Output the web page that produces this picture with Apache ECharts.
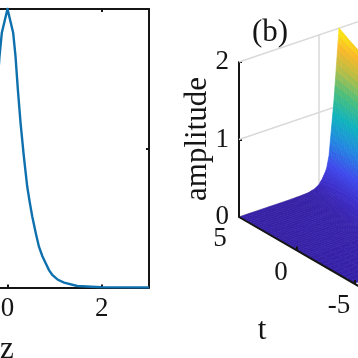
<!DOCTYPE html>
<html>
<head>
<meta charset="utf-8">
<style>html,body{margin:0;padding:0;background:#fff}#c{width:358px;height:358px}</style>
<script src="https://cdn.jsdelivr.net/npm/echarts@6/dist/echarts.min.js"></script>
</head>
<body>
<div id="c"></div>
<script>
// Panel (a): amplitude profile against z
const profileZ = [-3,-1.98,-1.48,-1.2,-1.07,-0.95,-0.88,-0.81,-0.74,-0.667,-0.6,-0.525,-0.47,-0.418,-0.347,-0.277,-0.22,-0.17,-0.12,0,0.12,0.17,0.22,0.277,0.347,0.418,0.47,0.525,0.6,0.667,0.74,0.81,0.88,0.95,1.07,1.2,1.48,1.98,3];
const profileAmp = [0,0.002,0.011,0.035,0.055,0.09,0.125,0.174,0.225,0.293,0.39,0.51,0.615,0.725,0.94,1.18,1.42,1.66,1.83,2,1.83,1.66,1.42,1.18,0.94,0.725,0.615,0.51,0.39,0.293,0.225,0.174,0.125,0.09,0.055,0.035,0.011,0.002,0];
const zTickValues = [-2,0,2];

// Panel (b): surface amplitude (rows: t, columns: z)
const surfaceT = [5,4,3,2,1,0,-1,-3,-5];
const surfaceZ = [-8,-4,-3,-2.5,-2,-1.6,-1.3,-1,-0.8,-0.6,-0.4,-0.2,0,0.3];
const surfaceAmp = [
 [0,0,0.005,0.01,0.03,0.07,0.14,0.24,0.4,0.75,1.1,1.55,2,1.4],
 [0,0,0.01,0.02,0.04,0.09,0.16,0.27,0.42,0.74,1.08,1.5,1.91,1.36],
 [0,0.005,0.015,0.03,0.06,0.11,0.19,0.3,0.45,0.74,1.05,1.45,1.83,1.32],
 [0,0.01,0.02,0.04,0.08,0.14,0.22,0.33,0.48,0.74,1.02,1.4,1.75,1.28],
 [0,0.01,0.03,0.06,0.11,0.17,0.26,0.37,0.5,0.72,0.98,1.33,1.66,1.22],
 [0,0.015,0.04,0.08,0.14,0.21,0.3,0.4,0.52,0.7,0.94,1.25,1.56,1.15],
 [0.005,0.02,0.05,0.1,0.16,0.24,0.33,0.43,0.53,0.68,0.88,1.16,1.44,1.1],
 [0.005,0.03,0.07,0.12,0.18,0.26,0.35,0.44,0.53,0.65,0.8,1,1.2,0.95],
 [0.01,0.03,0.07,0.12,0.18,0.25,0.33,0.41,0.49,0.57,0.68,0.8,0.95,0.8]
];
const ampTicks = [0,1,2];
const tTickLabels = [5,0,-5];
const zGridLines = [-1.6];

const FONT = '"Liberation Serif","Times New Roman",serif';
const INK = '#151515';
const GRIDC = '#d9d9d9';

// Oblique projection of (t, z, amp) onto panel (b)'s axes
const PX_T = 11.6, PX_Z = 12.5, DY_T = 6.7, DY_Z = 4.225, PX_AMP = 77.5;
function project(t, z, a) {
  const dt = 5 - t, dz = z + 8;
  return [dt * PX_T + dz * PX_Z, a + (dz * DY_Z - dt * DY_T) / PX_AMP];
}

const ramp = [
 [0,[54,32,165]],[0.1,[58,42,198]],[0.3,[62,72,236]],[0.6,[34,135,225]],
 [0.9,[14,178,190]],[1.2,[70,190,125]],[1.5,[185,190,70]],[1.75,[250,185,45]],[2,[250,240,15]]
];
function colour(a) {
  for (let i = 1; i < ramp.length; i++) {
    if (a <= ramp[i][0]) {
      const f = Math.max(0, (a - ramp[i-1][0]) / (ramp[i][0] - ramp[i-1][0]));
      const p = ramp[i-1][1], q = ramp[i][1];
      return 'rgb(' + [0,1,2].map(k => Math.round(p[k] + (q[k]-p[k]) * f)).join(',') + ')';
    }
  }
  return 'rgb(250,240,15)';
}

const quads = [];
for (let r = 0; r < surfaceT.length - 1; r++) {
  for (let c = surfaceZ.length - 2; c >= 0; c--) quads.push([r, c]);
}

function renderQuad(params, api) {
  const r = api.value(0), c = api.value(1);
  const t0 = surfaceT[r], t1 = surfaceT[r+1], z0 = surfaceZ[c], z1 = surfaceZ[c+1];
  const A = surfaceAmp;
  const N = 5, children = [];
  const at = (u, v) => {
    const a = (1-u)*(1-v)*A[r][c] + (1-u)*v*A[r][c+1] + u*(1-v)*A[r+1][c] + u*v*A[r+1][c+1];
    return { a, p: api.coord(project(t0 + (t1-t0)*u, z0 + (z1-z0)*v, a)) };
  };
  for (let i = 0; i < N; i++) for (let j = N - 1; j >= 0; j--) {
    const p00 = at(i/N, j/N), p01 = at(i/N, (j+1)/N), p11 = at((i+1)/N, (j+1)/N), p10 = at((i+1)/N, j/N);
    const col = colour((p00.a + p01.a + p11.a + p10.a) / 4);
    children.push({
      type: 'polygon',
      shape: { points: [p00.p, p01.p, p11.p, p10.p] },
      style: { fill: col, stroke: col, lineWidth: 0.6 }
    });
  }
  return { type: 'group', children };
}

function renderTTick(params, api) {
  const t = api.value(0);
  const p = api.coord(project(t, -8, 0));
  return { type: 'group', children: [
    { type: 'line', shape: { x1: p[0], y1: p[1], x2: p[0], y2: p[1] - 4 }, style: { stroke: INK, lineWidth: 2 } },
    { type: 'text', x: p[0] - (t === 5 ? 19 : 16), y: p[1] + 22, style: { text: String(t), font: '27px ' + FONT, fill: INK, align: 'center', verticalAlign: 'middle' } }
  ]};
}

const wallLine = (from, to, colr, width, z) => ({
  type: 'line', xAxisIndex: 2, yAxisIndex: 2, showSymbol: false, symbol: 'none', silent: true, clip: false, z: z,
  lineStyle: { color: colr, width: width }, data: [from, to]
});

const chart = echarts.init(document.getElementById('c'), null, { renderer: 'canvas' });
chart.setOption({
  animation: false,
  backgroundColor: '#ffffff',
  grid: [
    { left: -134, top: 9, width: 283, height: 278.5, outerBoundsMode: 'none', containLabel: false },
    { left: 239, top: 62, width: 119, height: 155, outerBoundsMode: 'none', containLabel: false }
  ],
  xAxis: [
    { gridIndex: 0, type: 'value', min: -3, max: 3, splitLine: { show: false },
      axisLine: { onZero: false, lineStyle: { color: INK, width: 2 } },
      axisTick: { inside: true, length: 3, customValues: zTickValues, lineStyle: { color: INK, width: 2 } },
      axisLabel: { customValues: zTickValues, color: INK, fontFamily: FONT, fontSize: 27, margin: 8 } },
    { gridIndex: 0, type: 'value', position: 'top', min: -3, max: 3, splitLine: { show: false },
      axisLine: { onZero: false, lineStyle: { color: INK, width: 2 } },
      axisTick: { inside: true, length: 3, customValues: zTickValues, lineStyle: { color: INK, width: 2 } },
      axisLabel: { show: false } },
    { gridIndex: 1, type: 'value', min: 0, max: 119, show: false }
  ],
  yAxis: [
    { gridIndex: 0, type: 'value', min: 0, max: 2, interval: 1, splitLine: { show: false },
      axisLine: { onZero: false, lineStyle: { color: INK, width: 2 } }, axisTick: { inside: true, length: 3 }, axisLabel: { show: false } },
    { gridIndex: 0, type: 'value', position: 'right', min: 0, max: 2, interval: 1, splitLine: { show: false },
      axisLine: { onZero: false, lineStyle: { color: INK, width: 2 } },
      axisTick: { inside: true, length: 3, lineStyle: { color: INK, width: 2 } }, axisLabel: { show: false } },
    { gridIndex: 1, type: 'value', min: 0, max: 2, interval: 1, splitLine: { show: false },
      axisLine: { show: true, onZero: false, lineStyle: { color: INK, width: 2 } },
      axisTick: { inside: true, length: 3, lineStyle: { color: INK, width: 2 } },
      axisLabel: { color: INK, fontFamily: FONT, fontSize: 27, margin: 10 } }
  ],
  series: [
    { type: 'line', xAxisIndex: 0, yAxisIndex: 0, showSymbol: false, symbol: 'none', smooth: false,
      lineStyle: { color: '#0f70ae', width: 2.4, join: 'miter' },
      data: profileZ.map((z, i) => [z, profileAmp[i]]) },
    ...ampTicks.filter(a => a > 0).map(a => wallLine(project(5, -8, a), project(5, 4, a), GRIDC, 1.5, 1)),
    wallLine(project(5, -8, 0), project(5, 4, 0), GRIDC, 1.5, 1),
    ...zGridLines.map(z => wallLine(project(5, z, 0), project(5, z, 2), GRIDC, 1.5, 1)),
    { type: 'custom', xAxisIndex: 2, yAxisIndex: 2, renderItem: renderQuad, silent: true, clip: false, z: 3,
      data: quads },
    wallLine(project(5, -8, 0), project(-5.5, -8, 0), INK, 2, 4),
    { type: 'custom', xAxisIndex: 2, yAxisIndex: 2, renderItem: renderTTick, silent: true, clip: false, z: 5,
      data: tTickLabels.map(t => [t]) }
  ],
  graphic: [
    { type: 'text', x: 7, y: 350, style: { text: 'z', font: '31px ' + FONT, fill: INK, align: 'center', verticalAlign: 'middle' } },
    { type: 'text', x: 270, y: 33, style: { text: '(b)', font: '31px ' + FONT, fill: INK, align: 'center', verticalAlign: 'middle' } },
    { type: 'text', x: 262, y: 331, style: { text: 't', font: '31px ' + FONT, fill: INK, align: 'center', verticalAlign: 'middle' } },
    { type: 'text', x: 198, y: 139, rotation: Math.PI / 2, style: { text: 'amplitude', font: '31px ' + FONT, fill: INK, align: 'center', verticalAlign: 'middle' } }
  ]
});
</script>
</body>
</html>
